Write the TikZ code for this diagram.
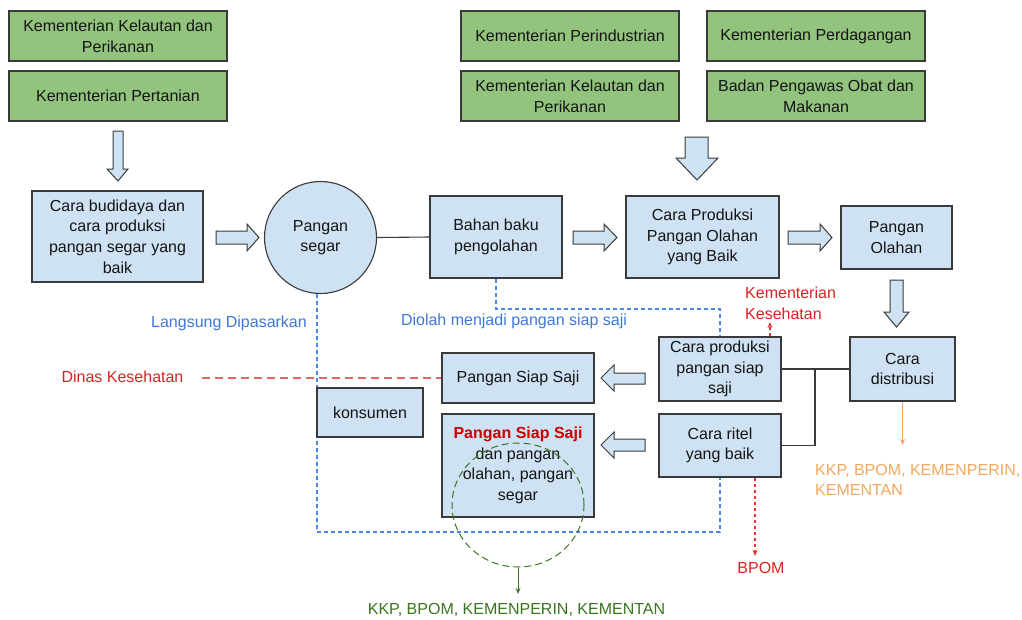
\documentclass[tikz,border=0pt]{standalone}
\usepackage{fontspec}
\setmainfont{Liberation Sans}
\usetikzlibrary{arrows.meta,shapes.geometric,backgrounds}
\definecolor{gfill}{HTML}{93C47D}
\definecolor{bfill}{HTML}{CFE2F3}
\definecolor{edge}{HTML}{3A3A3A}
\definecolor{bluetxt}{HTML}{3C78D8}
\definecolor{bluedash}{HTML}{4A86E8}
\definecolor{redtxt}{HTML}{DA2222}
\definecolor{redarr}{HTML}{E63535}
\definecolor{reddash}{HTML}{E06666}
\definecolor{orangetxt}{HTML}{F2A85E}
\definecolor{greentxt}{HTML}{38761D}
\definecolor{boldred}{HTML}{CC0000}
\tikzset{
  base/.style={draw=edge, line width=1.1pt, inner sep=0pt, align=center,
    font=\fontsize{16}{20.7}\selectfont, text=black!92},
  gbox/.style={base, fill=gfill, minimum width=218pt, minimum height=50pt},
  bbox/.style={base, fill=bfill},
  barrow/.style={draw=edge, line width=1pt, fill=bfill, line join=miter},
  lbl/.style={inner sep=0pt, font=\fontsize{16}{20.7}\selectfont, align=left},
  conn/.style={draw=edge, line width=1.1pt},
  bdash/.style={draw=bluedash, line width=1.2pt, dash pattern=on 4pt off 3pt},
  rdash/.style={draw=reddash, line width=1.5pt, dash pattern=on 8pt off 5pt},
  rdarrow/.style={draw=redarr, line width=1.4pt, dash pattern=on 3.5pt off 2.5pt,
    -{Stealth[length=6pt,width=5pt]}},
  oarrow/.style={draw=orangetxt, line width=1pt, -{Stealth[length=6pt,width=5pt]}},
  garrow/.style={draw=greentxt, line width=1pt, -{Stealth[length=6pt,width=5pt]}},
}
\begin{document}
\begin{tikzpicture}[x=1pt,y=-1pt]
\useasboundingbox (0,0) rectangle (1022,619);

% green agencies
\node[gbox] (g1) at (118,36) {Kementerian Kelautan dan\\Perikanan};
\node[gbox] (g2) at (118,96) {Kementerian Pertanian};
\node[gbox] (g3) at (570,36) {Kementerian Perindustrian};
\node[gbox] (g4) at (816,36) {Kementerian Perdagangan};
\node[gbox] (g5) at (570,96) {Kementerian Kelautan dan\\Perikanan};
\node[gbox] (g6) at (816,96) {Badan Pengawas Obat dan\\Makanan};

% process boxes
\node[bbox, minimum width=171pt, minimum height=91pt] (cb) at (117.5,236.5) {Cara budidaya dan\\cara produksi\\pangan segar yang\\baik};
\node[bbox, circle, minimum size=112pt] (ps) at (320.5,237.5) {Pangan\\segar};
\node[bbox, minimum width=132pt, minimum height=82pt] (bb) at (496,237) {Bahan baku\\pengolahan};
\node[bbox, minimum width=153pt, minimum height=82pt] (cp) at (702.5,237) {Cara Produksi\\Pangan Olahan\\yang Baik};
\node[bbox, minimum width=111pt, minimum height=63pt] (po) at (896.5,237.5) {Pangan\\Olahan};
\node[bbox, minimum width=105pt, minimum height=64pt] (cd) at (902.5,369) {Cara\\distribusi};
\node[bbox, minimum width=122pt, minimum height=64pt] (cs) at (720,369) {Cara produksi\\pangan siap\\saji};
\node[bbox, minimum width=122pt, minimum height=63pt] (cr) at (720,445.5) {Cara ritel\\yang baik};
\node[bbox, minimum width=152pt, minimum height=50pt] (pss) at (518,378) {Pangan Siap Saji};
\node[bbox, minimum width=152pt, minimum height=103pt] (pss2) at (518,465.5) {\textcolor{boldred}{\bfseries Pangan Siap Saji}\\dan pangan\\olahan, pangan\\segar};
\node[bbox, minimum width=106pt, minimum height=49pt] (kon) at (370,412.5) {konsumen};

% green dashed ellipse
\node[draw=greentxt, line width=1pt, dash pattern=on 7pt off 4pt, ellipse,
  minimum width=132pt, minimum height=124pt, inner sep=0pt] (gc) at (518,505) {};

% labels
\node[lbl, text=bluetxt] (ld) at (229,323) {Langsung Dipasarkan};
\node[lbl, text=bluetxt] (dm) at (514,321) {Diolah menjadi pangan siap saji};
\node[lbl, text=redtxt] (dk) at (122.5,377) {Dinas Kesehatan};
\node[lbl, text=redtxt, anchor=west] (kk) at (745,303) {Kementerian\\Kesehatan};
\node[lbl, text=orangetxt, anchor=west] (ok) at (815,480) {KKP, BPOM, KEMENPERIN,\\KEMENTAN};
\node[lbl, text=redtxt] (bp) at (761,568) {BPOM};
\node[lbl, text=greentxt] (gk) at (516.5,610) {KKP, BPOM, KEMENPERIN, KEMENTAN};

% block arrows
\draw[barrow] (113,131) -- (123,131) -- (123,169) -- (128,169) -- (118,181) -- (107,169) -- (113,169) -- cycle;
\draw[barrow] (216,231) -- (247,231) -- (247,224) -- (259,237.5) -- (247,251) -- (247,244) -- (216,244) -- cycle;
\draw[barrow] (685,137) -- (708,137) -- (708,158) -- (718,158) -- (697,180) -- (676,158) -- (685,158) -- cycle;
\draw[barrow] (573,231) -- (604,231) -- (604,224) -- (617,237.5) -- (604,251) -- (604,244) -- (573,244) -- cycle;
\draw[barrow] (788,231) -- (820,231) -- (820,224) -- (832,237.5) -- (820,251) -- (820,244) -- (788,244) -- cycle;
\draw[barrow] (890,280) -- (903,280) -- (903,312) -- (909,312) -- (896.5,327) -- (884,312) -- (890,312) -- cycle;
\draw[barrow] (645,373) -- (614,373) -- (614,365) -- (601,378) -- (614,391) -- (614,384) -- (645,384) -- cycle;
\draw[barrow] (645,439) -- (614,439) -- (614,432) -- (601,445) -- (614,458) -- (614,451) -- (645,451) -- cycle;

% connectors
\draw[conn] (ps.east) -- (bb.west);
\draw[conn] (cs.east) -- (cd.west);
\coordinate (j) at (815,369);
\draw[conn] (cr.east) -| (j);

\coordinate (b1) at (0,532);
\coordinate (b2) at (0,309);
\coordinate (bx) at (317,0);
\begin{scope}[on background layer]
\draw[bdash] (ps.south -| bx) |- (cr.south |- b1) -- (cr.south);
\draw[bdash] (bb.south) |- (cs.north |- b2) -- (cs.north);
\coordinate (d0) at (202,378);
\draw[rdash] (d0) -- (pss.west);
\end{scope}

\coordinate (ku) at (770,322);
\draw[rdarrow] (cs.north -| ku) -- (ku);
\coordinate (bd) at (755,556);
\draw[rdarrow] (cr.south -| bd) -- (bd);
\coordinate (oa) at (0,445);
\draw[oarrow] (cd.south) -- (cd.south |- oa);
\coordinate (ga) at (518,594);
\draw[garrow] (gc.south) -- (ga);
\end{tikzpicture}
\end{document}
